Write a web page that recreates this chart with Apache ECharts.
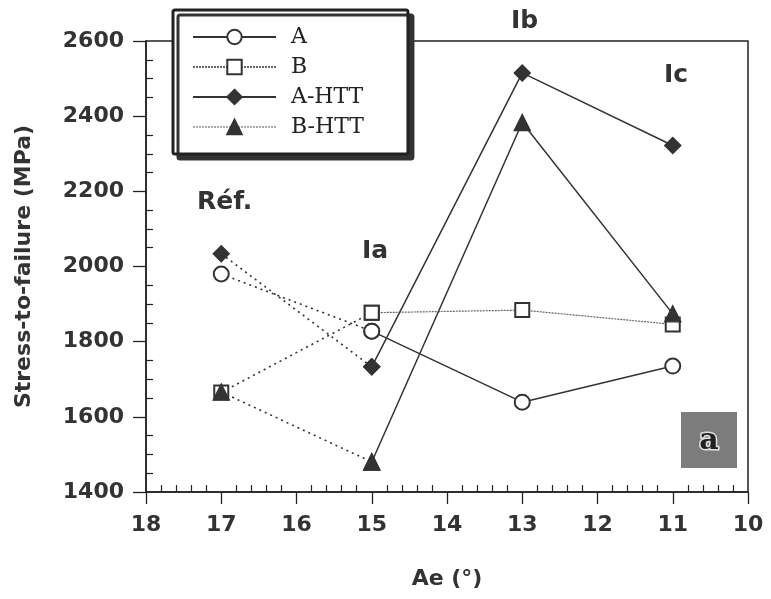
<!DOCTYPE html>
<html>
<head>
    <meta charset="UTF-8">
    <title>stress</title>
    <script src="https://cdn.jsdelivr.net/npm/echarts@6/dist/echarts.min.js"></script>
    <style>
        *{margin:0;padding:0}
        html,body{width:100%;height:100%;background:#fff}
        #main{width:771px;height:599px}
    </style>
</head>
<body>
<div id="main"></div>
<script type="text/javascript">
    // angles Ae (deg) and stress-to-failure (MPa)
    var angles = [17, 15, 13, 11];
    var valA    = [1980, 1828, 1639, 1735];
    var valB    = [1665, 1877, 1884, 1846];
    var valAHTT = [2034, 1733, 2515, 2322];
    var valBHTT = [1666, 1480, 2383, 1874];
    var yTicks = [1400, 1600, 1800, 2000, 2200, 2400, 2600];

    var dark = '#333';
    var myChart = echarts.init(document.getElementById('main'));

    // first segment (Réf. -> Ia) is dotted, the rest solid
    function pts(vals, from, to) {
        var out = [];
        for (var i = from; i <= to; i++) out.push([angles[i], vals[i]]);
        return out;
    }

    function pair(name, vals, symbol, size, solidStyle) {
        var marker = {
            symbol: symbol,
            symbolSize: size,
            itemStyle: {color: dark, borderColor: dark, borderWidth: 1.4}
        };
        var dotted = Object.assign({
            name: name + ' ref',
            type: 'line',
            data: pts(vals, 0, 1),
            lineStyle: {color: dark, width: 1.6, type: [2, 4]},
            z: 2,
            silent: true
        }, marker);
        var solid = Object.assign({
            name: name,
            type: 'line',
            data: pts(vals, 1, 3),
            lineStyle: solidStyle,
            z: 3,
            silent: true
        }, marker);
        return [dotted, solid];
    }

    var series = [].concat(
        pair('A', valA, 'emptyCircle', 15, {color: dark, width: 1.5}),
        pair('B', valB, 'emptyRect', 14, {color: '#666', width: 1.2, type: [2, 1]}),
        pair('A-HTT', valAHTT, 'diamond', 16, {color: dark, width: 1.5}),
        pair('B-HTT', valBHTT, 'triangle', 16, {color: dark, width: 1.5})
    );

    var tickFont = {fontFamily: 'DejaVu Sans', fontWeight: 'bold', fontSize: 22, color: '#333'};
    var noteFont = {fontFamily: 'DejaVu Sans', fontWeight: 'bold', fontSize: 25, fill: '#333'};
    var plotW = 771 - 146 - 23, plotH = 599 - 41 - 107;

    var option = {
        animation: false,
        grid: {left: 146, right: 23, top: 41, bottom: 107, show: true, borderColor: '#222', borderWidth: 1.5, outerBoundsMode: 'none'},
        legend: {
            orient: 'vertical',
            left: 173,
            top: 10,
            padding: [16, 44, 16, 19],
            itemGap: 8,
            itemWidth: 83,
            itemHeight: 18,
            backgroundColor: '#fff',
            borderColor: '#222',
            borderWidth: 3,
            borderRadius: 2,
            shadowColor: '#333',
            shadowBlur: 0,
            shadowOffsetX: 5,
            shadowOffsetY: 5,
            selectedMode: false,
            textStyle: {fontFamily: 'DejaVu Serif', fontSize: 22, color: '#222', padding: [0, 0, 0, 10]},
            data: [
                {name: 'A'},
                {name: 'B'},
                {name: 'A-HTT'},
                {name: 'B-HTT', lineStyle: {type: [2, 1], color: '#555', width: 1.2}}
            ]
        },
        xAxis: [{
            type: 'value',
            inverse: true,
            min: 10,
            max: 18,
            interval: 1,
            name: 'Ae (°)',
            nameLocation: 'middle',
            nameGap: 76,
            nameTextStyle: {fontFamily: 'DejaVu Sans', fontWeight: 'bold', fontSize: 22, color: '#333'},
            axisLine: {lineStyle: {color: '#222', width: 1.5}},
            axisTick: {length: 12, lineStyle: {color: '#222', width: 1.3}},
            axisLabel: Object.assign({margin: 22}, tickFont),
            splitLine: {show: false}
        }, {
            // minor ticks pointing up from the bottom edge
            type: 'value',
            position: 'top',
            offset: -plotH,
            inverse: true,
            min: 10,
            max: 18,
            interval: 1,
            axisLine: {show: false},
            axisTick: {show: false},
            minorTick: {show: true, splitNumber: 5, length: 7, lineStyle: {color: '#222', width: 1.2}},
            axisLabel: {show: false},
            splitLine: {show: false}
        }],
        yAxis: [{
            type: 'value',
            min: yTicks[0],
            max: yTicks[yTicks.length - 1],
            interval: 200,
            name: 'Stress-to-failure (MPa)',
            nameLocation: 'middle',
            nameRotate: 90,
            nameGap: 111,
            nameTextStyle: {fontFamily: 'DejaVu Sans', fontWeight: 'bold', fontSize: 22, color: '#333'},
            axisLine: {show: true, lineStyle: {color: '#222', width: 1.5}},
            axisTick: {show: true, length: 13, lineStyle: {color: '#222', width: 1.3}},
            axisLabel: Object.assign({margin: 22, formatter: function (v) { return String(v); }}, tickFont),
            splitLine: {show: false}
        }, {
            // minor ticks pointing right from the left edge
            type: 'value',
            position: 'right',
            offset: -plotW,
            min: yTicks[0],
            max: yTicks[yTicks.length - 1],
            interval: 200,
            axisLine: {show: false},
            axisTick: {show: false},
            minorTick: {show: true, splitNumber: 4, length: 7, lineStyle: {color: '#222', width: 1.2}},
            axisLabel: {show: false},
            splitLine: {show: false}
        }],
        graphic: [
            {type: 'text', left: 197, top: 190, style: Object.assign({text: 'Réf.'}, noteFont)},
            {type: 'text', left: 362, top: 239, style: Object.assign({text: 'Ia'}, noteFont)},
            {type: 'text', left: 511, top: 9, style: Object.assign({text: 'Ib'}, noteFont)},
            {type: 'text', left: 664, top: 63, style: Object.assign({text: 'Ic'}, noteFont)},
            {
                type: 'group', left: 681, top: 412,
                children: [
                    {type: 'rect', shape: {x: 0, y: 0, width: 56, height: 56}, style: {fill: '#7c7c7c'}},
                    {type: 'text', x: 28, y: 29, style: {text: 'a', fontFamily: 'DejaVu Serif', fontWeight: 'bold', fontSize: 30, fill: '#222', stroke: '#e0e0e0', lineWidth: 3, align: 'center', verticalAlign: 'middle'}}
                ]
            }
        ],
        series: series
    };

    myChart.setOption(option);
</script>
</body>
</html>
